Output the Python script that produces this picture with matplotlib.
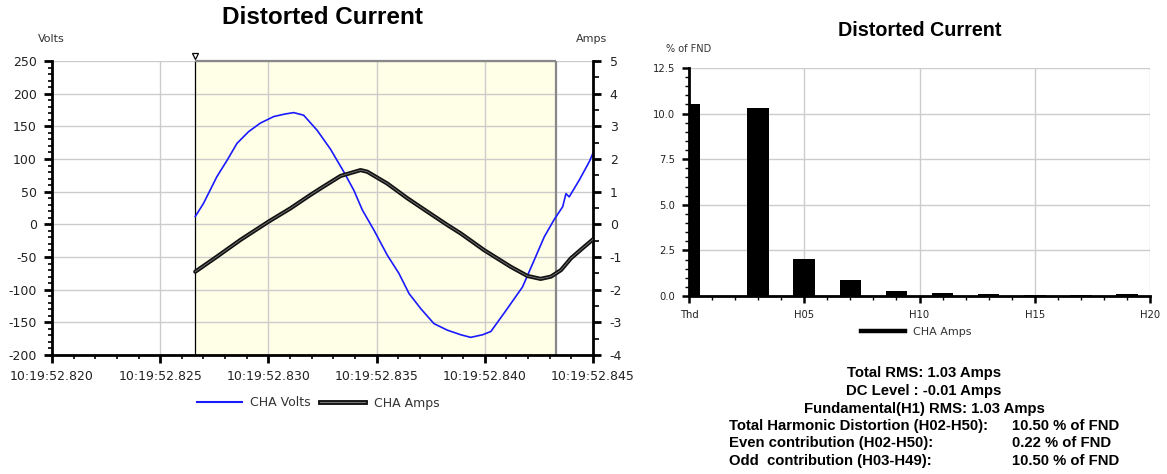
import matplotlib
matplotlib.use("Agg")
import matplotlib.pyplot as plt
from matplotlib.lines import Line2D
from matplotlib.ticker import MultipleLocator, FixedLocator, FormatStrFormatter
import matplotlib.transforms as mtransforms
from matplotlib import font_manager as fm

plt.rcParams["axes.unicode_minus"] = False

# ---------------- data ----------------
# time offsets in ms after 10:19:52.820
volt_t = [6.62, 7.00, 7.62, 8.09, 8.55, 9.09, 9.63, 10.25, 10.79, 11.17, 11.63, 12.25,
          12.87, 13.49, 13.95, 14.34, 14.88, 15.49, 16.03, 16.50, 17.04, 17.65, 18.27,
          18.89, 19.35, 19.90, 20.28, 20.89, 21.74, 22.28, 22.75, 23.20, 23.60, 23.75,
          23.90, 24.37, 24.83, 25.00]
volt_v = [12, 32, 73, 98, 124, 142, 155, 165, 169, 171, 167, 144,
          115, 80, 52, 22, -9, -47, -75, -106, -129, -152, -162,
          -169, -173, -169, -164, -136, -96, -55, -19, 7, 27, 47,
          42, 68, 96, 109]
amp_t = [6.62, 7.62, 8.70, 10.00, 11.02, 11.94, 12.41, 13.33, 14.26, 14.57, 15.49, 16.42,
         17.34, 18.27, 18.89, 19.97, 21.20, 21.97, 22.58, 23.06, 23.52, 23.98, 24.52, 25.00]
amp_a = [-1.45, -0.99, -0.48, 0.08, 0.49, 0.90, 1.10, 1.48, 1.66, 1.61, 1.25, 0.80,
         0.39, -0.02, -0.28, -0.79, -1.30, -1.58, -1.67, -1.60, -1.40, -1.04, -0.73, -0.46]
cycle_start = 6.62
cycle_end = 23.29
time_ticks = [0, 5, 10, 15, 20, 25]
time_labels = ["10:19:52.820", "10:19:52.825", "10:19:52.830",
               "10:19:52.835", "10:19:52.840", "10:19:52.845"]

harmonics = ["Thd", "H02", "H03", "H04", "H05", "H06", "H07", "H08", "H09", "H10", "H11",
             "H12", "H13", "H14", "H15", "H16", "H17", "H18", "H19", "H20"]
harm_values = [10.50, 0.02, 10.30, 0.02, 2.05, 0.01, 0.90, 0.01, 0.28, 0.01, 0.15,
               0.01, 0.11, 0.01, 0.05, 0.01, 0.05, 0.01, 0.09, 0.01]
harm_tick_labels = ["Thd", "H05", "H10", "H15", "H20"]

stats_center = ["Total RMS: 1.03 Amps", "DC Level : -0.01 Amps", "Fundamental(H1) RMS: 1.03 Amps"]
stats_left = ["Total Harmonic Distortion (H02-H50):", "Even contribution (H02-H50):",
              "Odd  contribution (H03-H49):"]
stats_right = ["10.50 % of FND", "0.22 % of FND", "10.50 % of FND"]

# ---------------- fonts ----------------
def find_bold_font():
    for f in fm.fontManager.ttflist:
        fname = f.fname.lower()
        if f.name == "Liberation Sans" and "narrow" not in fname and \
                (f.weight in (700, "bold")) and f.style == "normal":
            return f.fname
    return None

bold_path = find_bold_font()

def bold_props(size):
    if bold_path:
        return fm.FontProperties(fname=bold_path, size=size)
    return fm.FontProperties(family="DejaVu Sans", weight="bold", size=size)

# ---------------- figure ----------------
W, H = 1167, 474
fig = plt.figure(figsize=(W / 100, H / 100), dpi=100)
fig.patch.set_facecolor("white")

def fx(px):
    return px / W

def fy(py):
    return 1 - py / H

tick_color = "#222222"
grid_color = "#cccccc"

# ---------- left chart ----------
ax = fig.add_axes([fx(52), fy(355), fx(593) - fx(52), fy(61) - fy(355)])
ax.set_xlim(0, 25)
ax.set_ylim(-200, 250)
ax.axvspan(cycle_start, cycle_end, facecolor="#fffee6", edgecolor="none", zorder=0.2)
ax.set_axisbelow(True)
ax.grid(True, which="major", color=grid_color, lw=1.0)
ax.axvline(cycle_start, color="black", lw=0.9, zorder=1.5)
ax.axvline(cycle_end, color="#888888", lw=1.6, zorder=1.5)
ax.hlines(250, cycle_start, cycle_end, color="#888888", lw=1.6, zorder=1.5, clip_on=False)

ax.plot(volt_t, volt_v, color="#1a1aff", lw=1.2, zorder=3)

ax.xaxis.set_major_locator(FixedLocator(time_ticks))
ax.set_xticklabels(time_labels)
ax.xaxis.set_minor_locator(MultipleLocator(1))
ax.yaxis.set_major_locator(MultipleLocator(50))
ax.yaxis.set_minor_locator(MultipleLocator(10))
for s in ["top", "right"]:
    ax.spines[s].set_visible(False)
for s in ["left", "bottom"]:
    ax.spines[s].set_linewidth(2.0)
ax.tick_params(axis="both", which="major", direction="out", length=6, width=2.0,
               labelsize=9, labelcolor=tick_color, pad=5)
ax.tick_params(axis="both", which="minor", direction="out", length=3, width=1.2)

# marker triangle above cycle start
trans = mtransforms.offset_copy(ax.transData, fig=fig, x=0, y=5, units="dots")
ax.plot([cycle_start], [250], marker="v", ms=5, mfc="white", mec="black", mew=0.9,
        transform=trans, clip_on=False, zorder=5)

ax2 = ax.twinx()
ax2.set_ylim(-4, 5)
ax2.plot(amp_t, amp_a, color="#111111", lw=3.0, zorder=3, solid_capstyle="round")
ax2.plot(amp_t, amp_a, color="#777777", lw=0.6, zorder=4)
ax2.yaxis.set_major_locator(MultipleLocator(1))
ax2.yaxis.set_minor_locator(MultipleLocator(0.5))
for s in ["top", "left", "bottom"]:
    ax2.spines[s].set_visible(False)
ax2.spines["right"].set_linewidth(2.0)
ax2.tick_params(axis="y", which="major", direction="out", length=6, width=2.0,
                labelsize=9, labelcolor=tick_color, pad=6)
ax2.tick_params(axis="y", which="minor", direction="out", length=4, width=1.2)

fig.text(fx(322), fy(17), "Distorted Current", ha="center", va="center",
         fontproperties=bold_props(17.5))
fig.text(fx(51), fy(39), "Volts", ha="center", va="center", fontsize=8, color="#333333")
fig.text(fx(592), fy(39), "Amps", ha="center", va="center", fontsize=8, color="#333333")

h_volts = Line2D([], [], color="#1a1aff", lw=1.5)
h_amps = (Line2D([], [], color="#111111", lw=3.5), Line2D([], [], color="#777777", lw=0.8))
fig.legend([h_volts, h_amps], ["CHA Volts", "CHA Amps"], loc="center",
           bbox_to_anchor=(fx(318), fy(403)), ncol=2, frameon=False, fontsize=9,
           handlelength=3.6, columnspacing=0.7, handletextpad=0.7, labelcolor="#333333")

# ---------- right chart ----------
bx = fig.add_axes([fx(689), fy(296), fx(1150) - fx(689), fy(68) - fy(296)])
positions = [0 if h == "Thd" else int(h[1:]) for h in harmonics]
bx.bar(positions, harm_values, width=0.94, color="black", zorder=2)
bx.set_xlim(0, 20)
bx.set_ylim(0, 12.5)
bx.set_axisbelow(True)
bx.grid(True, which="major", color=grid_color, lw=1.0)
bx.xaxis.set_major_locator(FixedLocator([0, 5, 10, 15, 20]))
bx.set_xticklabels(harm_tick_labels)
bx.xaxis.set_minor_locator(MultipleLocator(1))
bx.yaxis.set_major_locator(MultipleLocator(2.5))
bx.yaxis.set_minor_locator(MultipleLocator(0.5))
bx.yaxis.set_major_formatter(FormatStrFormatter("%.1f"))
for s in ["top", "right"]:
    bx.spines[s].set_visible(False)
for s in ["left", "bottom"]:
    bx.spines[s].set_linewidth(2.0)
bx.tick_params(axis="both", which="major", direction="out", length=5, width=1.8,
               labelsize=7.2, labelcolor=tick_color, pad=5)
bx.tick_params(axis="both", which="minor", direction="out", length=3, width=1.0)

fig.text(fx(920), fy(31), "Distorted Current", ha="center", va="center",
         fontproperties=bold_props(14.2))
fig.text(fx(689), fy(49), "% of FND", ha="center", va="center", fontsize=7, color="#333333")
fig.legend([Line2D([], [], color="black", lw=3.2)], ["CHA Amps"], loc="center",
           bbox_to_anchor=(fx(916), fy(332)), frameon=False, fontsize=8,
           handlelength=4.0, handletextpad=0.7, labelcolor="#333333")

y0 = 373
for i, line in enumerate(stats_center):
    fig.text(fx(924), fy(y0 + i * 18), line, ha="center", va="center",
             fontproperties=bold_props(10.7))
for i, (l, r) in enumerate(zip(stats_left, stats_right)):
    yy = fy(y0 + (i + 3) * 17.6)
    fig.text(fx(729), yy, l, ha="left", va="center", fontproperties=bold_props(10.7))
    fig.text(fx(1012), yy, r, ha="left", va="center", fontproperties=bold_props(10.7))

fig.savefig("out.png", dpi=100, facecolor="white")
